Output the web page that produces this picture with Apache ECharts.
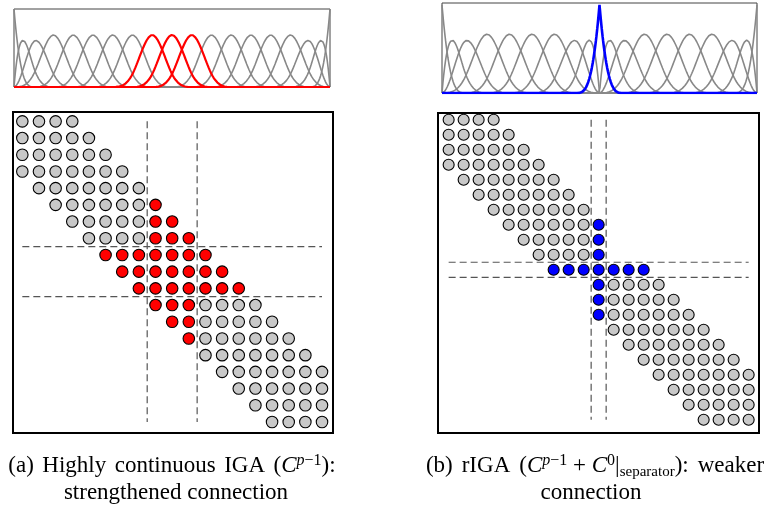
<!DOCTYPE html>
<html><head><meta charset="utf-8">
<script src="https://cdn.jsdelivr.net/npm/echarts@6/dist/echarts.min.js"></script>
<style>html,body{margin:0;padding:0;background:#fff}#c{width:777px;height:512px}</style>
</head><body><div id="c"></div>
<script>
// ---- data ----
const degree = 3;
// knot vectors of the B-spline bases drawn in the top panels
const leftKnots = [0,0,0,0,1,2,3,4,5,6,7,8,9,10,11,12,13,14,15,16,16,16,16];
const leftRedFunctions = [8,9,10];
const rightKnots = [0,0,0,0,1,2,3,4,5,6,7,7,7,8,9,10,11,12,13,14,14,14,14];
const rightBlueFunctions = [9];
// sparsity pattern of the matrices: first / last non-zero column for every row
const leftRowFirst = [0,0,0,0,1,2,3,4,5,6,7,8,9,10,11,12,13,14,15];
const leftRowLast  = [3,4,5,6,7,8,9,10,11,12,13,14,15,16,17,18,18,18,18];
const leftHighlight = [8,9,10];
const leftSeparators = [7.5,10.5];
const rightRowFirst = [0,0,0,0,1,2,3,4,5,6,7,10,10,10,11,12,13,14,15,16,17];
const rightRowLast  = [3,4,5,6,7,8,9,10,10,10,13,14,15,16,17,18,19,20,20,20,20];
const rightHighlight = [10];
const rightSeparators = [9.5,10.5];

// ---- helpers ----
function bs(t, i, p, u, last) {
  if (p === 0) {
    if (t[i] <= u && u < t[i+1]) return 1;
    if (u === last && t[i] < t[i+1] && t[i+1] === last) return 1;
    return 0;
  }
  let a = 0, b = 0;
  const d1 = t[i+p] - t[i];
  if (d1 > 0) a = (u - t[i]) / d1 * bs(t, i, p-1, u, last);
  const d2 = t[i+p+1] - t[i+1];
  if (d2 > 0) b = (t[i+p+1] - u) / d2 * bs(t, i+1, p-1, u, last);
  return a + b;
}
function curveSeries(knots, hl, hlColor, hlWidth, g) {
  const nf = knots.length - degree - 1;
  const last = knots[knots.length-1];
  const steps = last * 50;
  const out = [];
  const mk = (i) => {
    const d = [];
    for (let k = 0; k <= steps; k++) { const u = k / 50; d.push([u, bs(knots, i, degree, u, last)]); }
    return d;
  };
  for (let i = 0; i < nf; i++) {
    if (hl.includes(i)) continue;
    out.push({type:'line', xAxisIndex:g, yAxisIndex:g, data:mk(i), showSymbol:false, silent:true,
      lineStyle:{color:'#888888', width:1.6}, z:2});
  }
  hl.forEach(i => out.push({type:'line', xAxisIndex:g, yAxisIndex:g, data:mk(i), showSymbol:false, silent:true,
      lineStyle:{color:hlColor, width:hlWidth}, z:3}));
  return out;
}
function matrixSeries(first, lastArr, hl, hlColor, seps, g, size) {
  const n = first.length;
  const grey = [], col = [];
  for (let r = 0; r < n; r++) for (let c = first[r]; c <= lastArr[r]; c++) {
    (hl.includes(r) || hl.includes(c) ? col : grey).push([c, r]);
  }
  const out = [];
  seps.forEach(s => {
    out.push({type:'line', xAxisIndex:g, yAxisIndex:g, data:[[s,0],[s,n-1]], showSymbol:false, silent:true,
      lineStyle:{color:'#555', width:1.2, type:[7,4]}, z:1});
    out.push({type:'line', xAxisIndex:g, yAxisIndex:g, data:[[0,s],[n-1,s]], showSymbol:false, silent:true,
      lineStyle:{color:'#555', width:1.2, type:[7,4]}, z:1});
  });
  const st = (c) => ({color:c, borderColor:'#000', borderWidth:1.1, opacity:1});
  out.push({type:'scatter', xAxisIndex:g, yAxisIndex:g, data:grey, symbolSize:size, itemStyle:st('#c8c8c8'), z:3, silent:true});
  out.push({type:'scatter', xAxisIndex:g, yAxisIndex:g, data:col, symbolSize:size, itemStyle:st(hlColor), z:4, silent:true});
  return out;
}

const chart = echarts.init(document.getElementById('c'), null, {renderer:'canvas'});
const ax = (g, min, max, inv) => ({type:'value', gridIndex:g, min, max, inverse:!!inv, show:false});
const serif = 'Liberation Serif';
const rich = {
  n:{fontFamily:serif, fontSize:23, lineHeight:27, color:'#000'},
  i:{fontFamily:serif, fontSize:23, lineHeight:27, fontStyle:'italic', color:'#000'},
  si:{fontFamily:serif, fontSize:16, lineHeight:15, fontStyle:'italic', verticalAlign:'top', color:'#000'},
  s:{fontFamily:serif, fontSize:16, lineHeight:15, verticalAlign:'top', color:'#000'},
  b:{fontFamily:serif, fontSize:15, lineHeight:13, verticalAlign:'bottom', color:'#000'},
  wa:{fontFamily:serif, fontSize:23, lineHeight:27, width:8.5},
  wb:{fontFamily:serif, fontSize:23, lineHeight:27, width:9}
};
chart.setOption({
  animation:false,
  backgroundColor:'#fff',
  grid:[
    {left:14, top:9, width:316, height:78, show:true, borderColor:'#444', borderWidth:1, containLabel:false},
    {left:442, top:3, width:315, height:90, show:true, borderColor:'#444', borderWidth:1, containLabel:false},
    {left:13, top:112, width:320, height:321, show:true, borderColor:'#000', borderWidth:2, containLabel:false},
    {left:438, top:113, width:321, height:320, show:true, borderColor:'#000', borderWidth:2, containLabel:false}
  ],
  xAxis:[ax(0,0,16), ax(1,0,14), ax(2,-0.56,18.66), ax(3,-0.71,20.69)],
  yAxis:[ax(0,0,1), ax(1,0,1.02), ax(2,-0.56,18.66,true), ax(3,-0.45,20.88,true)],
  series:[].concat(
    curveSeries(leftKnots, leftRedFunctions, '#ff0000', 2.2, 0),
    curveSeries(rightKnots, rightBlueFunctions, '#0000ff', 2.6, 1),
    matrixSeries(leftRowFirst, leftRowLast, leftHighlight, '#ff0000', leftSeparators, 2, 11.5),
    matrixSeries(rightRowFirst, rightRowLast, rightHighlight, '#0000ff', rightSeparators, 3, 11)
  ),
  graphic:[
    {type:'text', x:172, y:466, style:{text:'{n|(a)}{wa| }{n|Highly}{wa| }{n|continuous}{wa| }{n|IGA}{wa| }{n|(}{i|C}{si|p}{s|−1}{n|):}', rich, align:'center', verticalAlign:'middle'}},
    {type:'text', x:176, y:493, style:{text:'{n|strengthened connection}', rich, align:'center', verticalAlign:'middle'}},
    {type:'text', x:595, y:466, style:{text:'{n|(b)}{wb| }{n|rIGA}{wb| }{n|(}{i|C}{si|p}{s|−1}{n| + }{i|C}{s|0}{n||}{b|separator}{n|):}{wb| }{n|weaker}', rich, align:'center', verticalAlign:'middle'}},
    {type:'text', x:591, y:493, style:{text:'{n|connection}', rich, align:'center', verticalAlign:'middle'}}
  ]
});
</script></body></html>
